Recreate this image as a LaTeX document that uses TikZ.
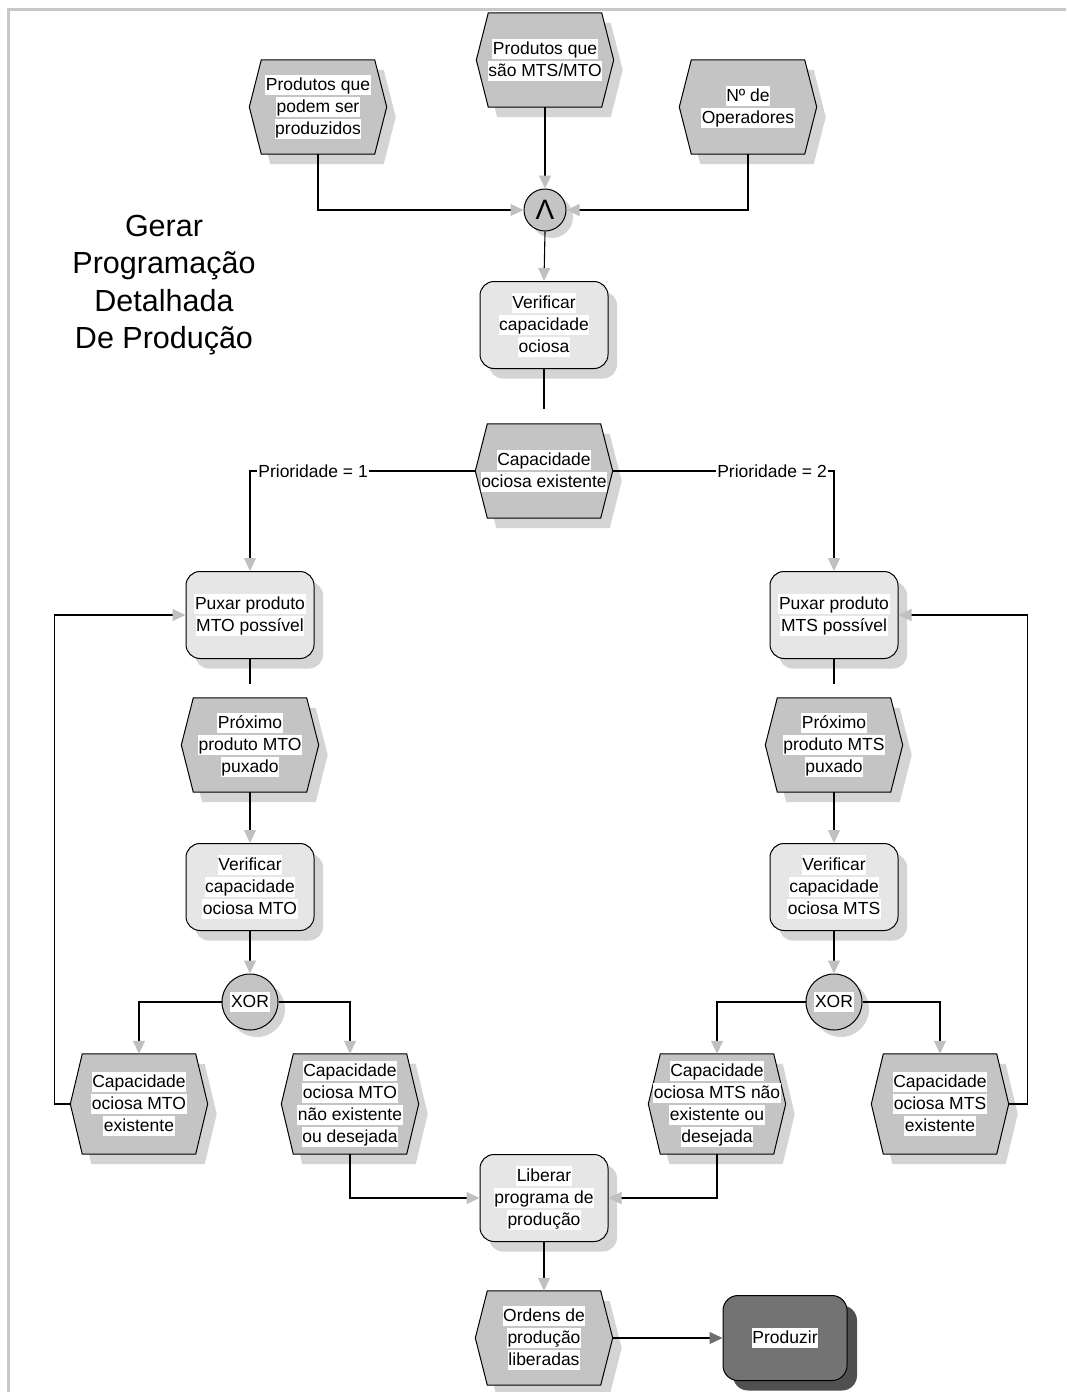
\documentclass[tikz,border=0pt]{standalone}
\usepackage{fontspec}
\setmainfont{Liberation Sans}
\usetikzlibrary{arrows.meta,shadows,backgrounds}
\definecolor{evgray}{HTML}{C4C4C4}
\definecolor{fngray}{HTML}{E6E6E6}
\definecolor{shgray}{HTML}{D4D4D4}
\definecolor{argray}{HTML}{C0C0C0}
\definecolor{frgray}{HTML}{C8C8C8}
\definecolor{dkgray}{HTML}{737373}
\definecolor{dkshadow}{HTML}{505050}
\definecolor{dkarrow}{HTML}{6E6E6E}
\newcommand\boxfont{\fontsize{17.5}{22}\selectfont}
\newcommand\hl[1]{{\setlength{\fboxsep}{0.6pt}\colorbox{white}{\rule[-0.26em]{0pt}{1.1em}#1}}}
\newcommand\evt[5]{%
  \node[evn, minimum height=#4pt] (#1) at (#2,#3) {#5};
  \begin{scope}[on background layer]
    \fill[shgray] ([shift={(9,10)}]#1.west) -- ([shift={(21,10)}]#1.north west) -- ([shift={(-3,10)}]#1.north east) -- ([shift={(9,10)}]#1.east) -- ([shift={(-3,10)}]#1.south east) -- ([shift={(21,10)}]#1.south west) -- cycle;
    \filldraw[fill=evgray, draw=black, line width=1pt] (#1.west) -- ([xshift=12pt]#1.north west) -- ([xshift=-12pt]#1.north east) -- (#1.east) -- ([xshift=-12pt]#1.south east) -- ([xshift=12pt]#1.south west) -- cycle;
  \end{scope}}
\tikzset{
  evn/.style={rectangle, minimum width=137pt, inner sep=0pt, align=center, font=\boxfont},
  fn/.style={rectangle, rounded corners=14pt, draw, line width=1pt, fill=fngray, minimum width=128pt, minimum height=87pt, inner sep=0pt, align=center, font=\boxfont, drop shadow={shadow xshift=9pt, shadow yshift=-10pt, fill=shgray, opacity=1}},
  gate/.style={circle, draw, line width=1pt, fill=evgray, inner sep=0pt, drop shadow={shadow xshift=7pt, shadow yshift=-7pt, fill=shgray, opacity=1}},
  conn/.style={line width=1.1pt, black},
  arr/.style={conn, -{Triangle[length=13pt, width=12pt, color=argray]}},
  darr/.style={conn, -{Triangle[length=13pt, width=12pt, color=dkarrow]}},
  lab/.style={fill=white, inner sep=1pt, font=\boxfont},
}
\begin{document}
\begin{tikzpicture}[x=1pt, y=-1pt]
\useasboundingbox (0,0) rectangle (1066,1392);
\begin{scope}[on background layer]
\fill[white] (0,0) rectangle (1066,1392);
\draw[frgray, line width=3pt] (8,1392) -- (8,9) -- (1066,9);
\end{scope}

\node[align=center, font=\fontsize{30.5}{37.5}\selectfont] (title) at (164,285) {Gerar\\Programação\\Detalhada\\De Produção};

\evt{e1}{318}{107}{94}{\hl{Produtos que}\\\hl{podem ser}\\\hl{produzidos}}
\evt{e2}{545}{60}{94}{\hl{Produtos que}\\\hl{são MTS/MTO}}
\evt{e3}{748}{107}{94}{\hl{Nº de}\\\hl{Operadores}}
\node[gate, minimum size=42pt, font=\fontsize{28}{28}\selectfont] (and) at (545,210) {Λ};
\node[fn] (f1) at (544,325) {\hl{Verificar}\\\hl{capacidade}\\\hl{ociosa}};
\evt{e4}{544}{471}{94}{\hl{Capacidade}\\\hl{ociosa existente}}

\node[fn] (f2) at (250,615) {\hl{Puxar produto}\\\hl{MTO possível}};
\evt{e5}{250}{745}{94}{\hl{Próximo}\\\hl{produto MTO}\\\hl{puxado}}
\node[fn] (f4) at (250,887) {\hl{Verificar}\\\hl{capacidade}\\\hl{ociosa MTO}};
\node[gate, minimum size=56pt, font=\boxfont] (x1) at (250,1002) {\hl{XOR}};
\evt{e6}{139}{1104}{100}{\hl{Capacidade}\\\hl{ociosa MTO}\\\hl{existente}}
\evt{e7}{350}{1104}{100}{\hl{Capacidade}\\\hl{ociosa MTO}\\\hl{não existente}\\\hl{ou desejada}}

\node[fn] (f3) at (834,615) {\hl{Puxar produto}\\\hl{MTS possível}};
\evt{e8}{834}{745}{94}{\hl{Próximo}\\\hl{produto MTS}\\\hl{puxado}}
\node[fn] (f5) at (834,887) {\hl{Verificar}\\\hl{capacidade}\\\hl{ociosa MTS}};
\node[gate, minimum size=56pt, font=\boxfont] (x2) at (834,1002) {\hl{XOR}};
\evt{e9}{717}{1104}{100}{\hl{Capacidade}\\\hl{ociosa MTS não}\\\hl{existente ou}\\\hl{desejada}}
\evt{e10}{940}{1104}{100}{\hl{Capacidade}\\\hl{ociosa MTS}\\\hl{existente}}

\node[fn] (f7) at (544,1198) {\hl{Liberar}\\\hl{programa de}\\\hl{produção}};
\evt{e11}{544}{1338}{94}{\hl{Ordens de}\\\hl{produção}\\\hl{liberadas}}
\node[rectangle, rounded corners=15pt, draw, line width=1pt, fill=dkgray, minimum width=124pt, minimum height=85pt, font=\boxfont, drop shadow={shadow xshift=10pt, shadow yshift=-10pt, fill=dkshadow, opacity=1}] (f8) at (785,1338) {\hl{Produzir}};

% connectors
\draw[arr] (e1.south) |- (and.west);
\draw[arr] (e2.south) -- (and.north);
\draw[arr] (e3.south) |- (and.east);
\draw[arr] (and.south) -- (f1.north);
\draw[conn, shorten >=15pt] (f1.south) -- (e4.north);
\draw[arr] (e4.west) -| node[lab, pos=0.36] (p1) {Prioridade = 1} (f2.north);
\draw[arr] (e4.east) -| node[lab, pos=0.36] (p2) {Prioridade = 2} (f3.north);

\draw[conn, shorten >=14pt] (f2.south) -- (e5.north);
\draw[arr] (e5.south) -- (f4.north);
\draw[arr] (f4.south) -- (x1.north);
\draw[arr] (x1.west) -| (e6.north);
\draw[arr] (x1.east) -| (e7.north);
\draw[arr] (e6.west) -- ++(-16,0) |- (f2.west);
\draw[arr] (e7.south) |- (f7.west);

\draw[conn, shorten >=14pt] (f3.south) -- (e8.north);
\draw[arr] (e8.south) -- (f5.north);
\draw[arr] (f5.south) -- (x2.north);
\draw[arr] (x2.west) -| (e9.north);
\draw[arr] (x2.east) -| (e10.north);
\draw[arr] (e10.east) -- ++(19,0) |- (f3.east);
\draw[arr] (e9.south) |- (f7.east);

\draw[arr] (f7.south) -- (e11.north);
\draw[darr] (e11.east) -- (f8.west);
\end{tikzpicture}
\end{document}
